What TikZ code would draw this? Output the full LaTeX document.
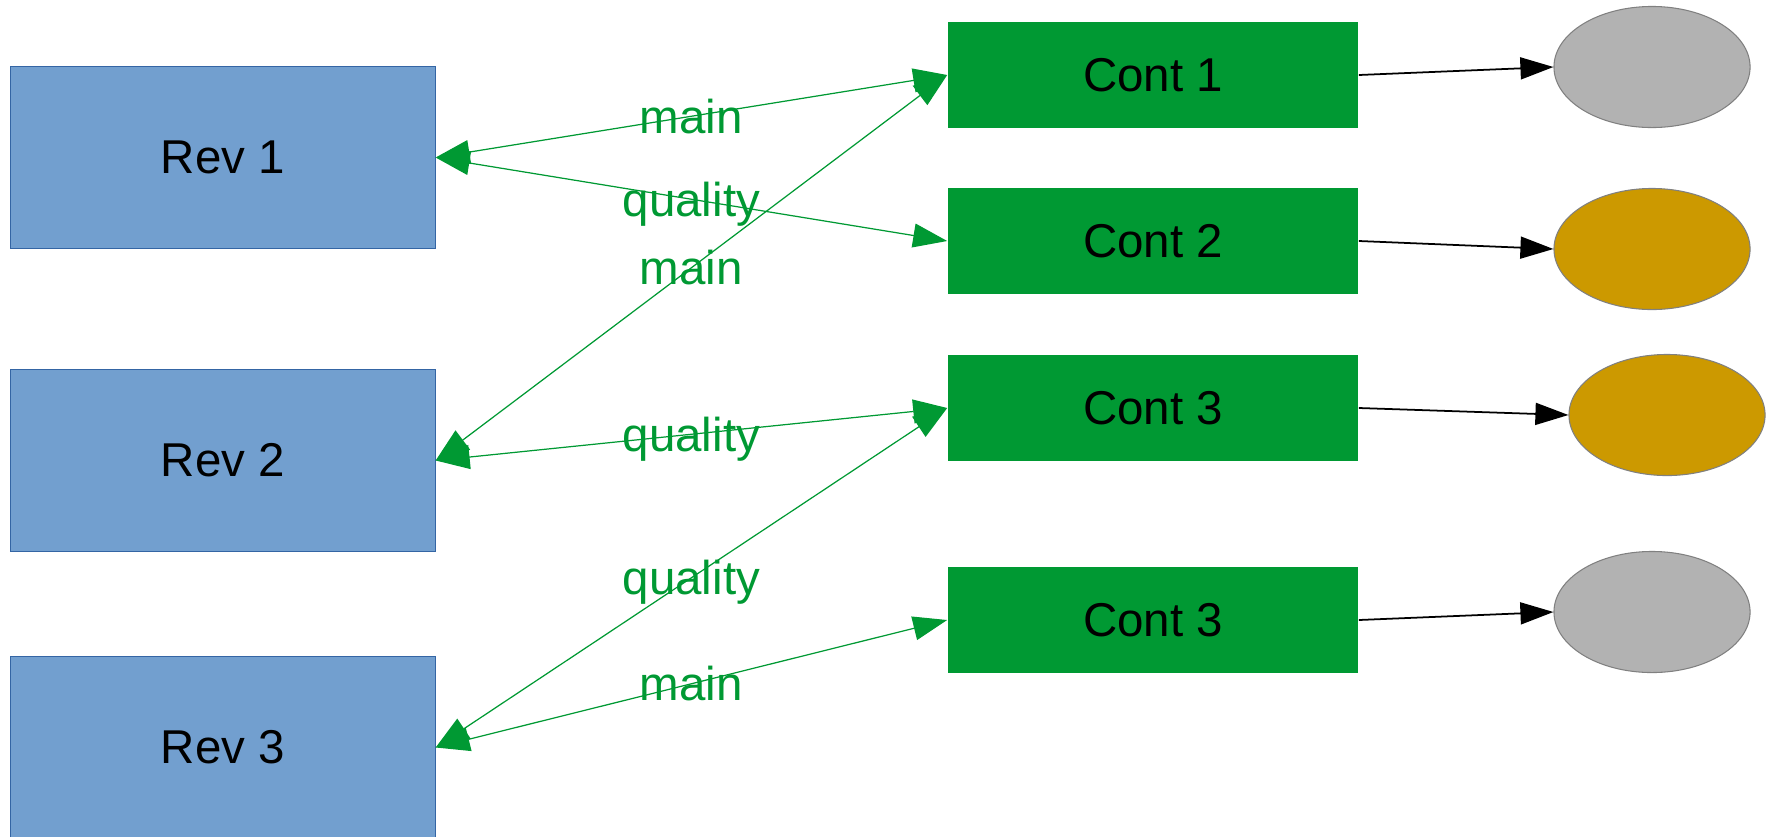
\documentclass[tikz,border=0pt]{standalone}
\usepackage{fontspec}
\setmainfont{Liberation Sans}
\usetikzlibrary{arrows.meta,shapes.geometric}
\definecolor{revblue}{RGB}{114,159,207}
\definecolor{revedge}{RGB}{52,101,164}
\definecolor{contgreen}{RGB}{0,153,51}
\definecolor{outgrey}{RGB}{178,178,178}
\definecolor{outgold}{RGB}{204,153,0}
\tikzstyle{rev}=[rectangle,fill=revblue,draw=revedge,line width=0.3pt,minimum width=4.24cm,minimum height=1.81cm,inner sep=0pt]
\tikzstyle{cont}=[rectangle,fill=contgreen,minimum width=4.10cm,minimum height=1.06cm,inner sep=0pt]
\tikzstyle{outcome}=[ellipse,draw=gray,line width=0.3pt,minimum width=1.96cm,minimum height=1.21cm,inner sep=0pt]
\tikzstyle{link}=[contgreen,line width=0.35pt,{Triangle[length=0.34cm,width=0.24cm]}-{Triangle[length=0.34cm,width=0.24cm]}]
\tikzstyle{feed}=[black,line width=0.5pt,-{Triangle[length=0.33cm,width=0.22cm]}]
\tikzstyle{tag}=[text=contgreen,midway,inner sep=0pt,text depth=0pt]

\begin{document}
\begin{tikzpicture}[x=0.01cm,y=-0.01cm,font=\fontsize{13.5}{16}\selectfont]
	\useasboundingbox (0,0) rectangle (1779,836);
	% reviewers
	\node[rev] (rev1) at (223,157.5) {Rev 1};
	\node[rev] (rev2) at (223,460.5) {Rev 2};
	\node[rev] (rev3) at (223,747.5) {Rev 3};
	% containers
	\node[cont] (cont1) at (1153,75) {Cont 1};
	\node[cont] (cont2) at (1153,241) {Cont 2};
	\node[cont] (cont3) at (1153,408) {Cont 3};
	\node[cont] (cont4) at (1153,620) {Cont 3};
	% outcomes
	\node[outcome,fill=outgrey] (out1) at (1652,67) {};
	\node[outcome,fill=outgold] (out2) at (1652,249) {};
	\node[outcome,fill=outgold] (out3) at (1667,415) {};
	\node[outcome,fill=outgrey] (out4) at (1652,612) {};
	\foreach \i in {1,2,3,4} {
		\draw[feed] (cont\i.east) -- (out\i.west);
	}
	% links
	\draw[link] (rev1.east) -- (cont1.west) node[tag] {main};
	\draw[link] (rev1.east) -- (cont2.west) node[tag] {quality};
	\draw[link] (rev2.east) -- (cont1.west) node[tag] {main};
	\draw[link] (rev2.east) -- (cont3.west) node[tag] {quality};
	\draw[link] (rev3.east) -- (cont3.west) node[tag] {quality};
	\draw[link] (rev3.east) -- (cont4.west) node[tag] {main};
\end{tikzpicture}
\end{document}
